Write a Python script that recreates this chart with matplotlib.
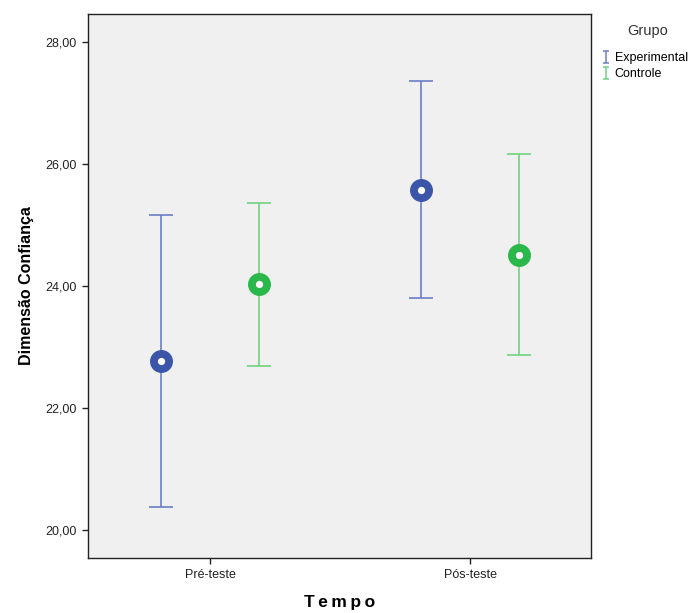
import matplotlib
matplotlib.use("Agg")
import matplotlib.pyplot as plt
from matplotlib.lines import Line2D
from matplotlib.path import Path
from matplotlib.ticker import FuncFormatter

plt.rcParams['font.family'] = ['Liberation Sans', 'DejaVu Sans']

# dados (media e IC 95%)
tempos = ["Pré-teste", "Pós-teste"]
grupos = ["Experimental", "Controle"]
media_exp = [22.77, 25.57]
inf_exp = [20.37, 23.80]
sup_exp = [25.16, 27.36]
media_ctl = [24.03, 24.51]
inf_ctl = [22.69, 22.87]
sup_ctl = [25.36, 26.16]

cor_marc = {"Experimental": "#3b55a9", "Controle": "#2bb84a"}
cor_barra = {"Experimental": "#6b7fc4", "Controle": "#6fd47f"}
desloc = {"Experimental": -0.188, "Controle": 0.188}

fig = plt.figure(figsize=(6.96, 6.13), dpi=100)
ax = fig.add_axes([88/696, 55/613, (591-88)/696, (558-14)/613])
ax.set_facecolor("#f0f0f0")

dados = {"Experimental": (media_exp, inf_exp, sup_exp),
         "Controle": (media_ctl, inf_ctl, sup_ctl)}

for g in grupos:
    m, lo, hi = dados[g]
    xs = [i + desloc[g] for i in range(len(tempos))]
    err = [[a - b for a, b in zip(m, lo)], [c - a for a, c in zip(m, hi)]]
    ax.errorbar(xs, m, yerr=err, fmt='none', ecolor=cor_barra[g],
                elinewidth=1.2, capsize=8.6, capthick=1.2, zorder=2)
    ax.plot(xs, m, 'o', color=cor_marc[g], markersize=15.5, zorder=3)
    ax.plot(xs, m, 'o', color='white', markersize=4.2, zorder=4)

ax.set_xlim(-0.469, 1.465)
ax.set_ylim(19.54, 28.46)
ax.set_xticks(range(len(tempos)))
ax.set_xticklabels(tempos)
ax.set_yticks([20, 22, 24, 26, 28])
ax.yaxis.set_major_formatter(FuncFormatter(lambda v, p: f"{v:.2f}".replace('.', ',')))
ax.tick_params(axis='both', labelsize=9, colors='#222222', length=4.5, width=1)
for s in ax.spines.values():
    s.set_color('#222222')
    s.set_linewidth(1)

ax.set_ylabel("Dimensão Confiança", fontsize=11.5, fontweight='bold', labelpad=8)
ax.set_xlabel("T\u2009e\u2009m\u2009p\u2009o", fontsize=12.5, fontweight='bold', labelpad=10)

# simbolo em forma de "I" para a legenda
marca_i = Path([(-0.5, 1), (0.5, 1), (0, 1), (0, -1), (-0.5, -1), (0.5, -1)],
               [Path.MOVETO, Path.LINETO, Path.MOVETO, Path.LINETO, Path.MOVETO, Path.LINETO])
handles = [Line2D([], [], color=cor_barra[g], marker=marca_i, markerfacecolor='none',
                  markeredgewidth=1.1, linestyle='none', markersize=9) for g in grupos]
fig.text(648/696, 1 - 31/613, "Grupo", fontsize=10.5, color='#333333',
         ha='center', va='center')
fig.legend(handles, grupos, loc='upper left',
           bbox_to_anchor=(601/696, 1 - 52/613), frameon=False,
           fontsize=9, handletextpad=0.3, handlelength=0.8,
           labelspacing=0.35, borderaxespad=0, borderpad=0)

fig.savefig("out.png", dpi=100)
